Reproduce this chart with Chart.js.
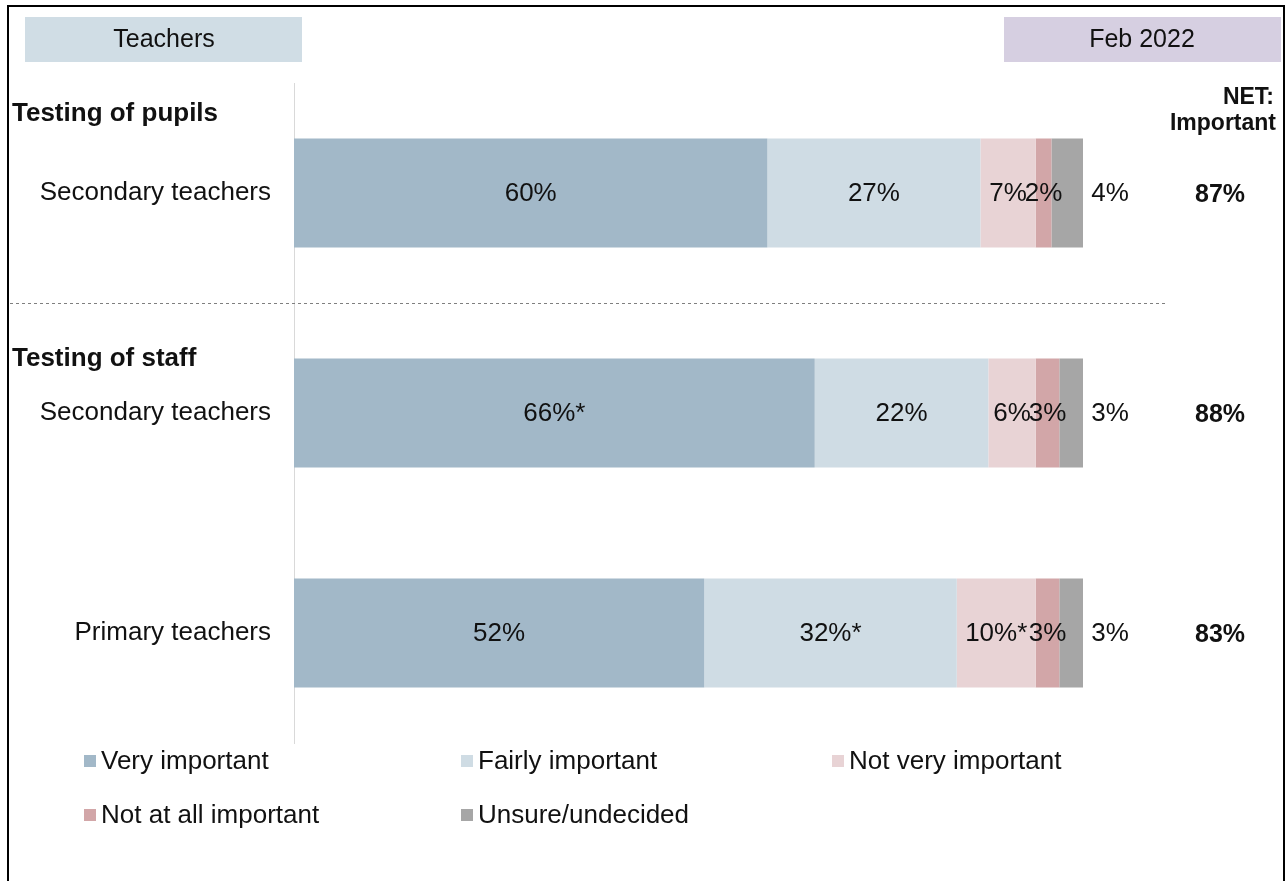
<!DOCTYPE html>
<html>
<head>
<meta charset="utf-8">
<script src="https://cdn.jsdelivr.net/npm/chart.js@4/dist/chart.umd.min.js"></script>
<style>
  html, body { margin: 0; padding: 0; background: #fff; }
  #wrap { width: 1287px; height: 881px; position: relative; }
</style>
</head>
<body>
<div id="wrap"><canvas id="importanceChart"></canvas></div>
<script>
// rows (top to bottom) and the group header shown above a row
const categories = ['Secondary teachers', 'Secondary teachers', 'Primary teachers'];
const groupHeaders = ['Testing of pupils', 'Testing of staff', ''];

// series values, in %
const veryImportant = [60, 66, 52];
const fairlyImportant = [27, 22, 32];
const notVeryImportant = [7, 6, 10];
const notAtAllImportant = [2, 3, 3];
const unsureUndecided = [4, 3, 3];
const netImportant = [87, 88, 83];

// significance markers shown after the value
const veryMarks = ['', '*', ''];
const fairlyMarks = ['', '', '*'];
const notVeryMarks = ['', '', '*'];

const seriesNames = ['Very important', 'Fairly important', 'Not very important', 'Not at all important', 'Unsure/undecided'];
const seriesColors = ['#a2b8c8', '#cfdce4', '#e8d3d5', '#d2a6a8', '#a6a6a6'];

const FONT = '"Liberation Sans", Arial, sans-serif';

function makeSet(i, values, marks){
  return {
    label: seriesNames[i],
    data: values,
    marks: marks || values.map(() => ''),
    backgroundColor: seriesColors[i],
    borderWidth: 0,
    categoryPercentage: 1,
    barPercentage: 0.495
  };
}

// value labels inside segments, last series outside to the right
const valueLabels = {
  id: 'valueLabels',
  afterDatasetsDraw(chart){
    const ctx = chart.ctx;
    ctx.save();
    ctx.font = '26px ' + FONT;
    ctx.fillStyle = '#111';
    ctx.textAlign = 'center';
    ctx.textBaseline = 'middle';
    const last = chart.data.datasets.length - 1;
    chart.data.datasets.forEach((ds, di) => {
      chart.getDatasetMeta(di).data.forEach((bar, i) => {
        const txt = ds.data[i] + '%' + ds.marks[i];
        if(di === last){
          ctx.fillText(txt, bar.x + 27, bar.y + 1);
        } else {
          ctx.fillText(txt, (bar.x + bar.base) / 2, bar.y + 1);
        }
      });
    });
    // NET column
    ctx.font = 'bold 25px ' + FONT;
    const y = chart.scales.y;
    netImportant.forEach((v, i) => {
      ctx.fillText(v + '%', 1220, y.getPixelForValue(i) + 2);
    });
    ctx.restore();
  }
};

// frame, header boxes, group headers, separator, legend
const decorations = {
  id: 'decorations',
  afterDraw(chart){
    const ctx = chart.ctx;
    const y = chart.scales.y;
    ctx.save();

    ctx.strokeStyle = '#000';
    ctx.lineWidth = 2;
    ctx.strokeRect(8, 6, 1276, 900);

    ctx.fillStyle = '#d0dde5';
    ctx.fillRect(25, 17, 277, 45);
    ctx.fillStyle = '#d6cfe1';
    ctx.fillRect(1004, 17, 277, 45);
    ctx.fillStyle = '#111';
    ctx.font = '25px ' + FONT;
    ctx.textAlign = 'center';
    ctx.textBaseline = 'middle';
    ctx.fillText('Teachers', 164, 40);
    ctx.fillText('Feb 2022', 1142, 40);

    ctx.font = 'bold 23px ' + FONT;
    ctx.textAlign = 'right';
    ctx.textBaseline = 'alphabetic';
    ctx.fillText('NET:', 1274, 104);
    ctx.fillText('Important', 1276, 130);

    // group headers above their first row
    const headerOffsets = [72, 47, 0];
    ctx.font = 'bold 26px ' + FONT;
    ctx.textAlign = 'left';
    groupHeaders.forEach((h, i) => {
      if(!h) return;
      ctx.fillText(h, 12, y.getPixelForValue(i) - headerOffsets[i]);
    });

    // dashed separator between the two groups
    const sepY = Math.round((y.getPixelForValue(0) + y.getPixelForValue(1)) / 2) + 0.5;
    ctx.strokeStyle = '#7f7f7f';
    ctx.lineWidth = 1;
    ctx.setLineDash([3, 3]);
    ctx.beginPath();
    ctx.moveTo(10, sepY);
    ctx.lineTo(1168, sepY);
    ctx.stroke();
    ctx.setLineDash([]);

    // legend
    const cols = [84, 461, 832];
    const rows = [761, 815];
    ctx.font = '26px ' + FONT;
    ctx.textBaseline = 'middle';
    seriesNames.forEach((name, i) => {
      const cx = cols[i < 3 ? i : i - 3];
      const cy = rows[i < 3 ? 0 : 1];
      ctx.fillStyle = seriesColors[i];
      ctx.fillRect(cx, cy - 6, 12, 12);
      ctx.fillStyle = '#111';
      ctx.fillText(name, cx + 17, cy + 1);
    });
    ctx.restore();
  }
};

const ctx = document.getElementById('importanceChart').getContext('2d');
new Chart(ctx, {
  type: 'bar',
  data: {
    labels: categories,
    datasets: [
      makeSet(0, veryImportant, veryMarks),
      makeSet(1, fairlyImportant, fairlyMarks),
      makeSet(2, notVeryImportant, notVeryMarks),
      makeSet(3, notAtAllImportant),
      makeSet(4, unsureUndecided)
    ]
  },
  options: {
    indexAxis: 'y',
    responsive: true,
    maintainAspectRatio: false,
    animation: false,
    layout: { padding: { left: 0, right: 204, top: 83, bottom: 138 } },
    scales: {
      x: { stacked: true, min: 0, max: 100, display: false },
      y: {
        stacked: true,
        afterFit(scale){ scale.width = 294; },
        grid: { display: false, drawTicks: false },
        border: { display: true, color: '#d9d9d9', width: 1 },
        ticks: { padding: 23, color: '#111', font: { family: FONT, size: 26 } }
      }
    },
    plugins: {
      legend: { display: false },
      tooltip: { enabled: false }
    }
  },
  plugins: [valueLabels, decorations]
});
</script>
</body>
</html>
